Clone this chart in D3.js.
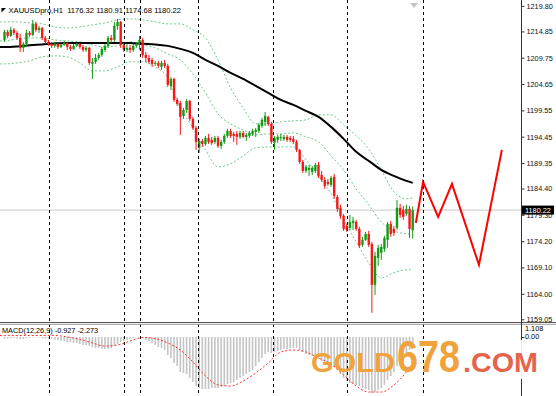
<!DOCTYPE html>
<html><head><meta charset="utf-8">
<script src="https://cdn.jsdelivr.net/npm/d3@7"></script>
<style>
body{margin:0;background:#fff;}
svg{display:block;}
text{font-family:"Liberation Sans",Arial,sans-serif;}
</style>
</head><body>
<svg id="c" width="556" height="396"></svg>
<script>
// ---------------- DATA ----------------
const symbol = "XAUUSDpro,H1";
const macdName = "MACD(12,26,9)";
const opens = [1213.21,1214.76,1213.98,1215.15,1214.56,1213.60,1211.66,1212.43,1214.56,1214.18,1216.31,1215.15,1215.53,1213.60,1212.82,1212.43,1212.05,1212.43,1211.85,1212.24,1212.63,1211.85,1211.46,1212.05,1212.43,1211.85,1211.27,1211.66,1208.56,1208.94,1209.72,1210.30,1211.27,1212.05,1213.60,1213.21,1215.92,1216.70,1212.24,1211.27,1211.66,1211.27,1212.05,1212.43,1213.21,1210.30,1209.72,1209.33,1208.56,1208.75,1207.98,1208.75,1208.17,1204.29,1205.65,1201.58,1201.00,1198.48,1199.64,1201.39,1197.90,1196.15,1192.28,1193.63,1193.05,1194.22,1193.83,1193.44,1194.22,1192.67,1193.44,1194.60,1195.57,1194.99,1194.99,1194.41,1195.18,1194.41,1194.60,1194.99,1195.38,1195.57,1196.54,1197.32,1198.29,1196.93,1193.25,1193.83,1194.22,1194.02,1194.41,1194.22,1194.02,1193.44,1191.89,1189.56,1187.82,1188.01,1187.63,1187.82,1188.98,1187.04,1186.08,1185.69,1185.11,1186.66,1182.78,1180.65,1179.10,1177.16,1176.77,1177.74,1177.94,1176.58,1173.48,1174.45,1175.61,1173.67,1165.73,1170.96,1171.93,1172.70,1174.45,1177.55,1176.58,1176.77,1180.65,1180.26,1179.49,1180.46,1176.32];
const highs = [1215.15,1215.15,1215.73,1215.53,1214.95,1214.37,1212.82,1215.15,1214.95,1217.08,1216.70,1215.92,1215.73,1213.98,1213.21,1212.82,1212.82,1212.63,1212.43,1213.01,1212.82,1212.24,1212.43,1212.63,1212.63,1212.24,1212.05,1211.85,1209.72,1210.49,1210.69,1211.85,1212.43,1213.98,1214.18,1216.70,1217.28,1216.89,1212.63,1212.43,1212.24,1212.43,1212.82,1213.98,1213.60,1210.88,1210.30,1209.72,1209.14,1209.14,1209.14,1209.33,1208.56,1206.04,1205.84,1201.97,1201.39,1200.03,1201.77,1201.58,1198.29,1196.54,1194.02,1194.02,1194.60,1194.99,1194.41,1194.60,1194.60,1193.83,1194.99,1195.96,1195.96,1195.38,1195.57,1195.57,1195.57,1195.18,1195.57,1195.96,1196.15,1197.12,1198.09,1199.25,1198.48,1197.32,1194.60,1194.80,1194.99,1194.80,1194.80,1194.60,1194.60,1193.83,1192.08,1189.95,1188.98,1188.98,1188.79,1189.37,1189.56,1187.82,1186.66,1186.27,1186.85,1187.24,1183.17,1181.23,1179.49,1177.55,1179.29,1178.91,1178.32,1176.97,1175.03,1176.00,1176.19,1174.06,1172.12,1173.48,1173.67,1175.22,1177.94,1178.13,1177.16,1182.20,1181.42,1181.04,1181.23,1181.04,1180.91];
const lows = [1212.82,1213.60,1213.79,1214.18,1213.21,1210.88,1210.88,1212.05,1213.79,1213.98,1214.76,1214.56,1213.21,1212.43,1212.05,1211.66,1211.66,1211.46,1211.66,1212.05,1211.27,1211.08,1211.27,1211.85,1211.46,1210.88,1210.88,1208.36,1205.65,1208.56,1209.33,1209.91,1210.88,1211.66,1212.63,1212.82,1215.15,1211.66,1210.88,1210.88,1210.69,1210.88,1211.66,1211.27,1209.72,1208.94,1208.56,1207.98,1208.17,1207.78,1207.39,1207.78,1204.10,1203.52,1201.19,1200.42,1194.80,1197.90,1199.06,1197.51,1195.77,1191.89,1191.31,1192.47,1192.67,1193.05,1192.86,1193.05,1192.28,1192.08,1193.05,1194.22,1194.22,1193.44,1192.86,1194.02,1194.22,1193.63,1194.22,1194.60,1194.41,1195.18,1196.15,1196.54,1196.54,1193.05,1191.89,1193.25,1193.63,1193.63,1193.44,1193.44,1193.05,1191.50,1189.18,1187.43,1187.43,1186.85,1187.04,1187.43,1186.46,1185.69,1184.33,1184.91,1184.72,1182.39,1179.87,1178.52,1176.19,1176.00,1176.39,1176.39,1176.19,1172.90,1173.09,1174.25,1173.09,1160.30,1163.79,1169.41,1170.57,1172.12,1172.90,1175.03,1175.22,1176.39,1178.71,1178.32,1179.10,1174.84,1174.68];
const closes = [1214.76,1213.98,1215.15,1214.56,1213.60,1211.66,1212.43,1214.56,1214.18,1216.31,1215.15,1215.53,1213.60,1212.82,1212.43,1212.05,1212.43,1211.85,1212.24,1212.63,1211.85,1211.46,1212.05,1212.43,1211.85,1211.27,1211.66,1208.75,1208.94,1209.72,1210.30,1211.46,1212.05,1213.60,1213.21,1215.92,1216.70,1212.24,1211.27,1211.66,1211.27,1212.05,1212.43,1213.21,1210.30,1209.72,1208.94,1208.56,1208.75,1208.17,1208.75,1208.17,1204.49,1205.65,1201.58,1200.80,1198.29,1199.64,1201.39,1197.90,1196.15,1193.44,1193.63,1193.05,1194.22,1193.44,1193.25,1194.22,1192.67,1193.44,1194.60,1195.57,1194.60,1194.60,1194.41,1195.18,1194.41,1194.80,1195.18,1195.57,1195.77,1196.73,1197.70,1198.48,1196.93,1193.44,1194.22,1194.41,1194.41,1194.41,1193.83,1193.83,1193.44,1191.89,1189.56,1187.82,1188.60,1188.40,1188.40,1188.98,1186.85,1186.08,1184.91,1185.30,1186.46,1182.98,1180.46,1179.10,1176.58,1176.39,1177.94,1178.13,1176.58,1173.29,1174.45,1175.61,1173.48,1165.73,1171.35,1172.90,1173.09,1174.84,1177.55,1175.61,1175.80,1180.65,1179.29,1178.91,1180.46,1176.58,1180.22];

// indicator lines read at these bar positions
const sampleIdx = [-1.5,0,4,8,12,16,20,24,28,32,36,40,44,48,52,56,60,64,68,72,76,80,84,88,92,96,100,104,108,112,116,120,124,128,130];
const maLine = [1211.85,1211.85,1211.95,1212.15,1212.34,1212.53,1212.63,1212.63,1212.63,1212.63,1212.63,1212.63,1212.44,1212.34,1212.05,1211.47,1210.69,1209.34,1208.17,1206.81,1205.65,1204.30,1202.94,1201.58,1200.61,1199.45,1198.29,1196.35,1194.03,1191.51,1189.76,1188.02,1186.85,1185.88,1185.50];
const upperBand = [1216.70,1216.70,1216.70,1216.50,1216.31,1215.73,1215.53,1215.73,1216.12,1216.50,1217.09,1217.28,1217.09,1216.70,1216.31,1216.31,1215.15,1213.60,1209.33,1203.91,1200.03,1196.93,1196.93,1197.32,1197.51,1197.71,1198.68,1198.68,1196.74,1194.61,1192.08,1188.02,1183.75,1182.40,1182.59];
const middleBand = [1213.01,1213.02,1213.41,1213.60,1213.60,1213.21,1213.02,1212.82,1212.24,1211.85,1212.05,1212.82,1212.24,1211.66,1210.50,1209.33,1206.62,1202.94,1198.87,1196.93,1195.77,1194.80,1194.99,1194.99,1195.19,1194.41,1193.44,1190.73,1188.02,1184.34,1181.23,1177.94,1176.19,1175.61,1175.42];
const lowerBand = [1208.56,1208.56,1208.75,1209.14,1209.92,1210.11,1209.92,1208.75,1207.20,1207.20,1207.98,1208.95,1208.95,1207.98,1205.84,1200.03,1196.15,1191.89,1188.60,1189.18,1190.73,1192.28,1192.47,1192.47,1192.47,1189.96,1186.85,1183.37,1178.52,1174.06,1169.99,1167.08,1168.05,1168.64,1168.64];
const macdSignal = [0.13,0.13,0.13,0.13,0.13,0.13,0,-0.21,-0.51,-0.77,-0.68,-0.34,-0.04,-0.13,-0.51,-1.11,-2.13,-3.32,-4.09,-4.18,-3.75,-3.07,-2.22,-1.28,-1.11,-1.28,-1.79,-2.30,-3.24,-4.18,-4.69,-4.69,-4.09,-2.98,-2.273];

const macdMain = [-0.12,-0.15,-0.1,-0.08,-0.12,-0.2,-0.18,-0.1,-0.08,-0.05,-0.02,-0.04,-0.1,-0.15,-0.2,
 -0.17,-0.26,-0.26,-0.34,-0.34,-0.43,-0.43,-0.51,-0.51,-0.60,-0.68,-0.68,-0.77,
 -0.85,-0.94,-0.94,-1.02,-1.02,-1.02,-0.94,
 -0.77,-0.60,-0.43,-0.34,-0.26,-0.17,-0.09,-0.02,
 -0.02,
 -0.09,-0.26,-0.34,
 -0.51,-0.68,-0.85,-0.94,-1.11,-1.53,
 -1.79,-2.22,-2.47,-2.98,
 -3.07,-3.15,-3.50,-3.84,-4.18,
 -4.35,-4.43,-4.43,-4.43,-4.35,-4.35,-4.35,
 -4.26,-4.18,-4.01,-3.92,-3.84,-3.67,-3.50,
 -3.32,-3.15,-2.98,-2.81,-2.47,-2.13,-1.79,
 -1.45,-1.28,-1.36,-1.28,
 -1.19,-1.11,-1.02,-1.02,-0.94,-0.94,-0.94,-1.11,
 -1.28,-1.45,-1.53,-1.62,-1.71,-1.88,
 -2.05,-2.22,-2.39,-2.47,-2.56,-2.81,-3.15,-3.50,
 -3.75,-3.92,-4.01,-4.09,-4.18,-4.35,-4.43,-4.52,-4.77,
 -4.69,-4.52,-4.35,-4.09,-3.67,-3.32,-2.98,
 -2.47,-2.13,-1.79,-1.45,-1.11,-0.927];

// hand-drawn forecast zigzag (bar position, price)
const forecastIdx = [131, 133.3, 138.1, 142.5, 151.1, 158.4];
const forecastPrice = [1177.74, 1185.69, 1178.91, 1185.30, 1169.60, 1191.89];

// period separators (bar positions)
const separatorIdx = [14.17, 38.06, 43.15, 61.62, 85.51, 109.08, 133.28];

const priceTicks = ["1219.80","1214.85","1209.75","1204.65","1199.55","1194.45","1189.35","1184.40","1179.30","1174.20","1169.10","1164.00","1159.05"];
const macdTicks = ["1.108","0.00"];
const macdMinLabel = "-5.362";
const lastPrice = 1180.22;

// ---------------- CHART ----------------
const svg = d3.select("#c");
const W = 556, H = 396, axisX = 521;
const mainBottom = 322, macdTop = 324.5;

const x = d3.scaleLinear().domain([0, 130]).range([4.5, 412.7]);
const y = d3.scaleLinear().domain([1159.05, 1219.80]).range([319.3, 5.9]);
const ym = d3.scaleLinear().domain([-5.36, 1.108]).range([399.9, 324]);

const defs = svg.append("defs");
defs.append("clipPath").attr("id","mainClip").append("rect").attr("x",0).attr("y",0).attr("width",axisX).attr("height",mainBottom);
defs.append("clipPath").attr("id","macdClip").append("rect").attr("x",0).attr("y",macdTop).attr("width",axisX).attr("height",H-macdTop);

svg.append("rect").attr("width",W).attr("height",H).attr("fill","#fff");

const main = svg.append("g").attr("clip-path","url(#mainClip)");

// current price line
main.append("line").attr("x1",0).attr("x2",axisX).attr("y1",y(lastPrice)).attr("y2",y(lastPrice))
  .attr("stroke","#c8c8c8").attr("stroke-width",1);

// bollinger bands
const bandLine = arr => d3.line().x((d,i)=>x(sampleIdx[i])).y(d=>y(d)).curve(d3.curveMonotoneX)(arr);
[upperBand, middleBand, lowerBand].forEach(b=>{
  main.append("path").attr("d",bandLine(b)).attr("fill","none")
    .attr("stroke","#6cc98a").attr("stroke-width",1).attr("stroke-dasharray","2,2");
});

// moving average
main.append("path").attr("d",bandLine(maLine)).attr("fill","none")
  .attr("stroke","#000").attr("stroke-width",2);

// candles
const bull = "#139c13", bear = "#f41818";
const candles = main.append("g");
closes.forEach((c,i)=>{
  const o = opens[i], col = c >= o ? bull : bear;
  const cx = x(i);
  candles.append("line").attr("x1",cx).attr("x2",cx).attr("y1",y(highs[i])).attr("y2",y(lows[i]))
    .attr("stroke",col).attr("stroke-width",1);
  const top = y(Math.max(o,c)), bot = y(Math.min(o,c));
  candles.append("rect").attr("x",cx-1.2).attr("width",2.4).attr("y",top).attr("height",Math.max(1,bot-top)).attr("fill",col);
});

// forecast zigzag
main.append("path").attr("d",d3.line().x((d,i)=>x(forecastIdx[i])).y(d=>y(d))(forecastPrice))
  .attr("fill","none").attr("stroke","#ff0000").attr("stroke-width",2).attr("stroke-linejoin","miter");

// MACD pane
const macd = svg.append("g").attr("clip-path","url(#macdClip)");
macdMain.forEach((v,i)=>{
  macd.append("line").attr("x1",x(i)).attr("x2",x(i)).attr("y1",ym(0)).attr("y2",ym(v))
    .attr("stroke","#c4c4c4").attr("stroke-width",1.6);
});
macd.append("path").attr("d",d3.line().x((d,i)=>x(sampleIdx[i])).y(d=>ym(d)).curve(d3.curveMonotoneX)(macdSignal))
  .attr("fill","none").attr("stroke","#ff3030").attr("stroke-width",1).attr("stroke-dasharray","2,2");

// period separators
svg.append("g").selectAll("line").data(separatorIdx).join("line")
  .attr("x1",d=>Math.round(x(d))+0.5).attr("x2",d=>Math.round(x(d))+0.5).attr("y1",0).attr("y2",H)
  .attr("stroke","#000").attr("stroke-width",1).attr("stroke-dasharray","3,3");

// pane separator
svg.append("line").attr("x1",0).attr("x2",W).attr("y1",322.5).attr("y2",322.5).attr("stroke","#555").attr("stroke-width",1.2);
svg.append("line").attr("x1",0).attr("x2",W).attr("y1",324.3).attr("y2",324.3).attr("stroke","#9a9a9a").attr("stroke-width",1);

// right axis line
svg.append("line").attr("x1",axisX+0.5).attr("x2",axisX+0.5).attr("y1",0).attr("y2",H).attr("stroke","#333").attr("stroke-width",1);

// price axis
const pAxis = svg.append("g").attr("transform",`translate(${axisX+0.5},0)`)
  .call(d3.axisRight(y).tickValues(priceTicks.map(Number)).tickFormat((d,i)=>priceTicks[i]).tickSize(3).tickPadding(2));
pAxis.select(".domain").remove();
pAxis.selectAll("text").attr("font-size","7.3px").attr("fill","#111").attr("font-family","Liberation Sans, Arial, sans-serif");
pAxis.selectAll("line").attr("stroke","#333");

// last price box
const lp = svg.append("g");
lp.append("rect").attr("x",axisX+1).attr("y",y(lastPrice)-4.5).attr("width",32).attr("height",9).attr("fill","#000");
lp.append("text").attr("x",axisX+4).attr("y",y(lastPrice)).attr("dy","0.35em").attr("font-size","7.3px").attr("fill","#fff").text(lastPrice.toFixed(2));

// macd axis
const mAxis = svg.append("g").attr("transform",`translate(${axisX+0.5},0)`)
  .call(d3.axisRight(ym).tickValues([0]).tickSize(3).tickFormat(()=>""));
mAxis.select(".domain").remove();
mAxis.selectAll("line").attr("stroke","#333");
svg.append("text").attr("x",axisX+4).attr("y",ym(+macdTicks[0])+4.3).attr("dy","0.35em").attr("font-size","7.3px").text(macdTicks[0]);
svg.append("text").attr("x",axisX+4).attr("y",ym(+macdTicks[1])-0.8).attr("dy","0.35em").attr("font-size","7.3px").text(macdTicks[1]);
svg.append("text").attr("x",axisX+4).attr("y",ym(+macdMinLabel)).attr("dy","0.35em").attr("font-size","7.3px").text(macdMinLabel);

// header
svg.append("path").attr("d","M1.5,8 L6,8 L1.5,12.5 Z").attr("fill","#000");
svg.append("text").attr("x",8.5).attr("y",10).attr("dy","0.35em").attr("font-size","7.6px").attr("fill","#000")
  .attr("xml:space","preserve")
  .text(`${symbol}  ${opens[130].toFixed(2)} ${highs[130].toFixed(2)} ${lows[130].toFixed(2)} ${closes[130].toFixed(2)}`);
svg.append("path").attr("d","M410,3 L418,3 L414,8 Z").attr("fill","#c4c4c4");

// macd label
const lastMain = macdMain[macdMain.length-1], lastSig = macdSignal[macdSignal.length-1];
svg.append("text").attr("x",2).attr("y",330.5).attr("dy","0.35em").attr("font-size","7.3px").attr("fill","#000")
  .text(`${macdName} ${lastMain.toFixed(3)} ${lastSig.toFixed(3)}`);

// watermark
svg.append("rect").attr("x",470).attr("y",340).attr("width",78).attr("height",39).attr("fill","#fff").attr("opacity",0.9);
const wm = svg.append("g").attr("font-family","Liberation Sans, Arial, sans-serif").attr("font-weight","bold");
wm.append("text").attr("x",311).attr("y",372).attr("font-size","28px").attr("fill","#f0a23c")
  .attr("textLength",84).attr("lengthAdjust","spacingAndGlyphs").text("GOLD");
wm.append("text").attr("x",397).attr("y",372).attr("font-size","44px").attr("fill","#f0a23c")
  .attr("textLength",63).attr("lengthAdjust","spacingAndGlyphs").text("678");
wm.append("text").attr("x",463).attr("y",372).attr("font-size","28px").attr("fill","#e4644c")
  .attr("textLength",75).attr("lengthAdjust","spacingAndGlyphs").text(".COM");
</script>
</body></html>
